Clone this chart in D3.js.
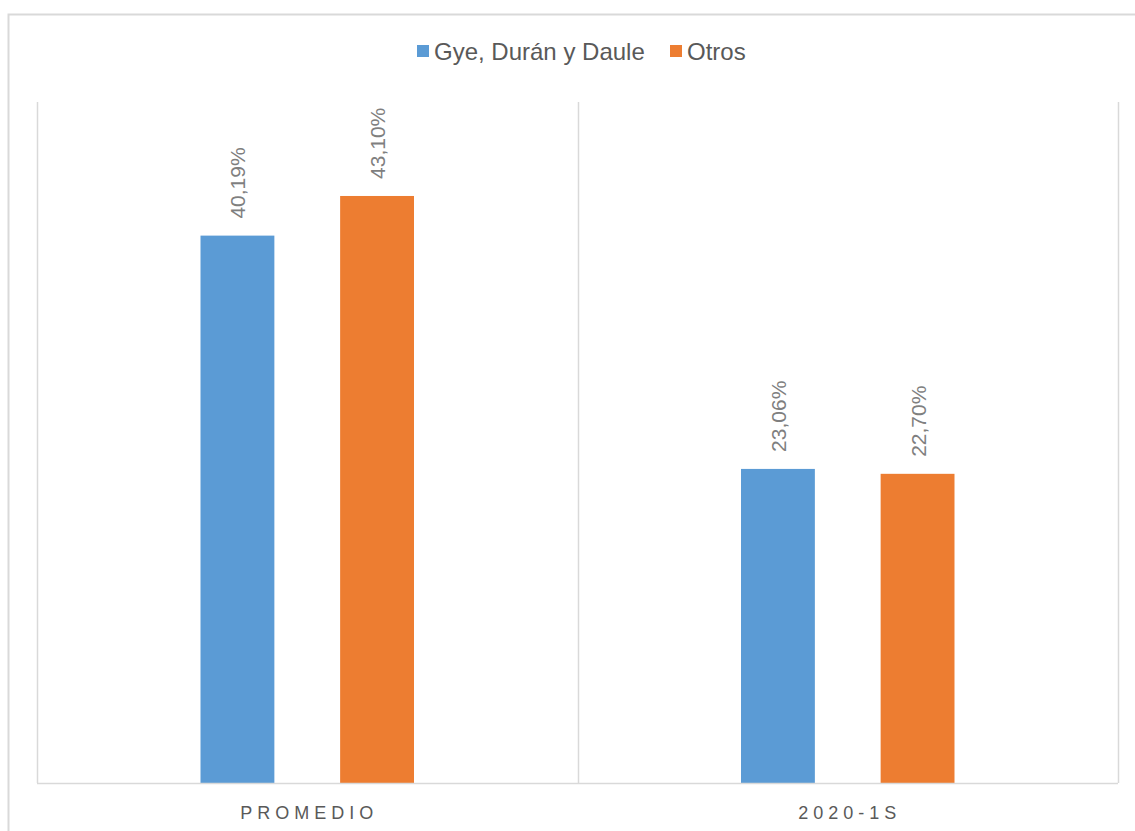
<!DOCTYPE html>
<html>
<head>
<meta charset="utf-8">
<script src="https://cdn.jsdelivr.net/npm/d3@7"></script>
<style>
  body { margin: 0; background: #fff; }
  svg text { font-family: "Liberation Sans", Arial, sans-serif; }
</style>
</head>
<body>
<script>
// data
const categories = ["PROMEDIO", "2020-1S"];
const seriesNames = ["Gye, Durán y Daule", "Otros"];
const seriesColors = ["#5b9bd5", "#ed7d31"];
const gyeValues = [40.19, 23.06];
const otrosValues = [43.10, 22.70];
const labelFormat = v => v.toFixed(2).replace(".", ",") + "%";

const W = 1135, H = 831;
const margin = {left: 37, right: 17, top: 102, bottom: 48};
const width = W - margin.left - margin.right;
const height = H - margin.top - margin.bottom;

const svg = d3.select("body").append("svg")
  .attr("width", W)
  .attr("height", H);

// outer chart border (extends past the window on right/bottom)
svg.append("rect")
  .attr("x", 8.5).attr("y", 14.5)
  .attr("width", 1140).attr("height", 840)
  .attr("fill", "none")
  .attr("stroke", "#d9d9d9")
  .attr("stroke-width", 2);

const g = svg.append("g")
  .attr("transform", `translate(${margin.left},${margin.top})`);

const x0 = d3.scaleBand().domain(categories).range([0, width]).padding(0);
const x1 = d3.scaleBand().domain(seriesNames).range([0, x0.bandwidth()])
  .paddingInner(0.471).paddingOuter(1.171);
const y = d3.scaleLinear().domain([0, 50]).range([height, 0]);

// category separators
const seps = [0, ...categories.map(c => x0(c) + x0.bandwidth())];
g.selectAll(".sep")
  .data(seps)
  .enter().append("line")
  .attr("class", "sep")
  .attr("x1", d => Math.round(d) + 0.5).attr("x2", d => Math.round(d) + 0.5)
  .attr("y1", 0).attr("y2", height)
  .attr("stroke", "#d9d9d9")
  .attr("stroke-width", 1.5);

const rows = categories.map((c, i) => ({
  cat: c,
  values: [
    {series: seriesNames[0], value: gyeValues[i], color: seriesColors[0]},
    {series: seriesNames[1], value: otrosValues[i], color: seriesColors[1]}
  ]
}));

const groups = g.selectAll(".cat")
  .data(rows)
  .enter().append("g")
  .attr("class", "cat")
  .attr("transform", d => `translate(${x0(d.cat)},0)`);

groups.selectAll("rect")
  .data(d => d.values)
  .enter().append("rect")
  .attr("x", d => x1(d.series))
  .attr("width", x1.bandwidth())
  .attr("y", d => y(d.value))
  .attr("height", d => height - y(d.value))
  .attr("fill", d => d.color);

groups.selectAll(".lbl")
  .data(d => d.values)
  .enter().append("text")
  .attr("class", "lbl")
  .attr("transform", d => `translate(${x1(d.series) + x1.bandwidth() / 2 + 8},${y(d.value) - 17}) rotate(-90)`)
  .attr("fill", "#7f7f7f")
  .style("font-size", "21px")
  .text(d => labelFormat(d.value));

// x axis baseline
g.append("line")
  .attr("x1", 0).attr("x2", width)
  .attr("y1", height + 0.5).attr("y2", height + 0.5)
  .attr("stroke", "#d9d9d9")
  .attr("stroke-width", 1.5);

g.selectAll(".xlab")
  .data(categories)
  .enter().append("text")
  .attr("class", "xlab")
  .attr("x", d => x0(d) + x0.bandwidth() / 2 + 2)
  .attr("y", height + 36)
  .attr("text-anchor", "middle")
  .attr("fill", "#595959")
  .style("font-size", "18px")
  .style("letter-spacing", "5px")
  .text(d => d);

// legend
const legendX = [417, 670];
const legend = svg.selectAll(".legend")
  .data(seriesNames)
  .enter().append("g")
  .attr("class", "legend")
  .attr("transform", (d, i) => `translate(${legendX[i]},45)`);

legend.append("rect")
  .attr("width", 12).attr("height", 12)
  .attr("fill", (d, i) => seriesColors[i]);

legend.append("text")
  .attr("x", 17).attr("y", 15)
  .attr("fill", "#595959")
  .style("font-size", "24px")
  .text(d => d);
</script>
</body>
</html>
